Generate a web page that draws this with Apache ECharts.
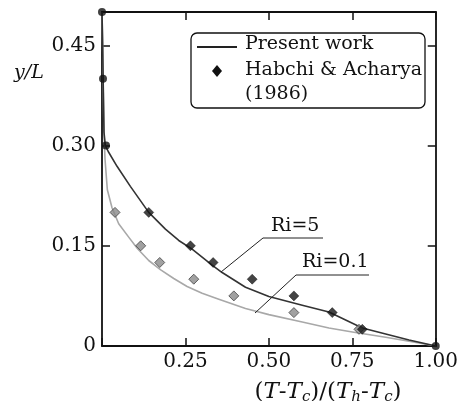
<!DOCTYPE html>
<html>
<head>
<meta charset="utf-8">
<script src="https://cdn.jsdelivr.net/npm/echarts@6/dist/echarts.min.js"></script>
<style>
html,body{margin:0;padding:0;background:#fff;}
#c{width:461px;height:401px;}
</style>
</head>
<body>
<div id="c"></div>
<script>
// Present work, Ri = 5  [x, y]
const presentRi5 = [
  [0,0.5],[0.002,0.45],[0.004,0.38],[0.006,0.32],[0.01,0.30],[0.02,0.29],[0.045,0.269],
  [0.085,0.239],[0.14,0.2],[0.19,0.175],[0.23,0.158],[0.27,0.145],[0.33,0.121],[0.36,0.11],
  [0.43,0.088],[0.5,0.074],[0.6,0.061],[0.68,0.051],[0.73,0.039],[0.78,0.027],[0.85,0.018],
  [0.92,0.009],[1,0]
];
// Present work, Ri = 0.1
const presentRi01 = [
  [0,0.5],[0.002,0.45],[0.004,0.38],[0.006,0.32],[0.009,0.28],[0.016,0.234],[0.03,0.207],
  [0.05,0.183],[0.08,0.163],[0.106,0.146],[0.14,0.128],[0.176,0.114],[0.215,0.101],
  [0.255,0.089],[0.3,0.079],[0.35,0.07],[0.43,0.056],[0.5,0.047],[0.6,0.036],[0.68,0.027],
  [0.75,0.021],[0.85,0.013],[0.92,0.007],[1,0]
];
// Habchi & Acharya (1986), Ri = 5
const habchiRi5 = [
  [0.14,0.2],[0.265,0.15],[0.333,0.125],[0.45,0.1],[0.575,0.075],[0.69,0.05],[0.78,0.025]
];
// Habchi & Acharya (1986), Ri = 0.1
const habchiRi01 = [
  [0.039,0.2],[0.116,0.15],[0.173,0.125],[0.275,0.1],[0.395,0.075],[0.575,0.05],[0.77,0.025]
];
// Habchi & Acharya (1986), wall points
const habchiWall = [[0,0.5],[0.003,0.4],[0.012,0.3],[1,0]];

const xTickValues = [0.25,0.5,0.75,1];
const xTickLabels = ['0.25','0.50','0.75','1.00'];
const yTickValues = [0,0.15,0.3,0.45];
const yTickLabels = ['0','0.15','0.30','0.45'];

const FAM = 'DejaVu Serif';
const INK = '#111';
const FS = 19;
const TFS = 20;

function lookup(vals, labels, v){
  for (let i=0;i<vals.length;i++) if (Math.abs(vals[i]-v)<1e-6) return labels[i];
  return '';
}
function txt(text, left, top, italic){
  return {type:'text',left:left,top:top,z:21,
    style:{text:text,fontFamily:FAM,fontSize:FS,fontStyle:italic?'italic':'normal',fill:INK}};
}

const axisCommon = {
  type:'value',
  axisLine:{show:true,onZero:false,lineStyle:{color:INK,width:1.8}},
  axisTick:{show:true,inside:true,length:8,lineStyle:{color:INK,width:1.5}},
  splitLine:{show:false}
};

const chart = echarts.init(document.getElementById('c'));
chart.setOption({
  animation:false,
  backgroundColor:'#fff',
  textStyle:{fontFamily:FAM},
  grid:{left:102,right:24,top:12,bottom:55,containLabel:false},
  xAxis:[
    Object.assign({}, axisCommon, {min:0,max:1,interval:0.25,position:'bottom',
      axisLabel:{show:true,margin:6,fontFamily:FAM,fontSize:TFS,color:INK,
        formatter:v=>lookup(xTickValues,xTickLabels,v)}}),
    Object.assign({}, axisCommon, {min:0,max:1,interval:0.25,position:'top',
      axisLabel:{show:false}})
  ],
  yAxis:[
    Object.assign({}, axisCommon, {min:0,max:0.5,interval:0.15,position:'left',
      axisLabel:{show:true,margin:6,fontFamily:FAM,fontSize:TFS,color:INK,
        formatter:v=>lookup(yTickValues,yTickLabels,v)}}),
    Object.assign({}, axisCommon, {min:0,max:0.5,interval:0.15,position:'right',
      axisLabel:{show:false}})
  ],
  series:[
    {type:'line',name:'Present work Ri=0.1',data:presentRi01,showSymbol:false,symbol:'none',
      clip:false,lineStyle:{color:'#a8a8a8',width:1.6,join:'round'},z:2,silent:true},
    {type:'line',name:'Present work Ri=5',data:presentRi5,showSymbol:false,symbol:'none',
      clip:false,lineStyle:{color:'#333',width:1.6,join:'round'},z:3,silent:true},
    {type:'scatter',name:'Habchi Ri=0.1',data:habchiRi01,symbol:'diamond',symbolSize:10,clip:false,
      itemStyle:{color:'#8a8a8a',borderColor:'#444',borderWidth:1},z:4},
    {type:'scatter',name:'Habchi Ri=5',data:habchiRi5,symbol:'diamond',symbolSize:10,clip:false,
      itemStyle:{color:'#151515',borderColor:'#000',borderWidth:0.5},z:5},
    {type:'scatter',name:'Habchi wall',data:habchiWall,symbol:'circle',symbolSize:8,clip:false,
      itemStyle:{color:'#111'},z:6}
  ],
  graphic:[
    // legend
    {type:'rect',shape:{x:191,y:33,width:234,height:75,r:6},
      style:{fill:'#fff',stroke:INK,lineWidth:1.3},z:20},
    {type:'line',shape:{x1:197,y1:47,x2:237,y2:47},style:{stroke:'#222',lineWidth:2},z:21},
    {type:'polygon',shape:{points:[[217,65],[222,71],[217,77],[212,71]]},style:{fill:INK},z:21},
    txt('Present work',245,35,false),
    txt('Habchi & Acharya',245,61,false),
    txt('(1986)',245,85,false),
    // axis titles
    txt('y/L',14,64,true),
    {type:'text',x:328,y:379,z:21,style:{
      text:'({i|T}-{i|T}{s|c})/({i|T}{s|h}-{i|T}{s|c})',
      fontFamily:FAM,fontSize:23,fill:INK,align:'center',verticalAlign:'top',
      rich:{
        i:{fontFamily:FAM,fontSize:23,fontStyle:'italic',fill:INK},
        s:{fontFamily:FAM,fontSize:15,fontStyle:'italic',fill:INK,padding:[11,0,0,0]}
      }}},
    // annotations
    txt('Ri=5',271,217,false),
    {type:'polyline',shape:{points:[[221,272],[263,238],[323,238]]},style:{stroke:'#222',lineWidth:1,fill:null},z:21},
    txt('Ri=0.1',302,253,false),
    {type:'polyline',shape:{points:[[255,313],[296,275],[369,275]]},style:{stroke:'#222',lineWidth:1,fill:null},z:21}
  ]
});
</script>
</body>
</html>
